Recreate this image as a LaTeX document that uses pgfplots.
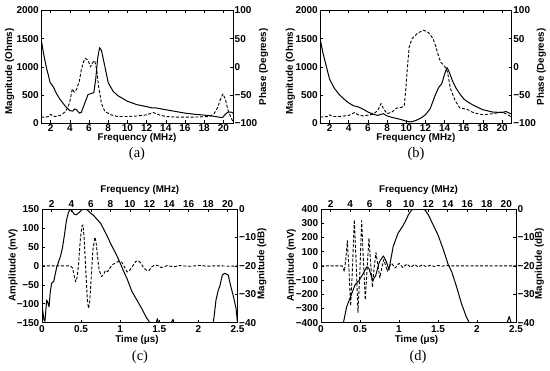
\documentclass[border=0pt]{standalone}
\usepackage{fontspec}
\setmainfont{Liberation Sans}
\newfontfamily\capfont{Liberation Serif}
\usepackage{pgfplots}
\pgfplotsset{compat=1.18}
\newcommand\tkf{\fontsize{10bp}{11bp}\selectfont\bfseries}
\newcommand\lbf{\fontsize{9.8bp}{11bp}\selectfont\bfseries}
\pgfplotsset{
  panel/.style={
    scale only axis, anchor=south west,
    axis line style={line width=0.6bp, black},
    every tick/.style={line width=0.6bp, black},
    major tick length=3bp, tick align=inside,
    every tick label/.append style={font=\tkf, inner sep=0pt},
    label style={font=\lbf, inner sep=0pt},
  },
  sol/.style={black, line width=1bp, line join=round},
  dsh/.style={black, line width=0.9bp, line join=round, dash pattern=on 3bp off 1.8bp},
}
\begin{document}
\begin{tikzpicture}
\useasboundingbox (0,0) rectangle (550bp,371bp);
% ---------------- (a) ----------------
\begin{axis}[panel, at={(41bp,247.7bp)}, width=192bp, height=112.9bp,
  xmin=1, xmax=21, ymin=0, ymax=2000,
  xtick={2,4,6,8,10,12,14,16,18,20}, xticklabels={2,4,6,8,10,12,14,16,18,20},
  xtick pos=both, xticklabel style={anchor=center, yshift=-4.8bp},
  ytick={0,500,1000,1500,2000}, yticklabels={0,500,1000,1500,2000},
  ytick pos=left, yticklabel style={anchor=east, xshift=-2bp},
  xlabel={Frequency (MHz)}, xlabel style={at={(axis description cs:0.5,-0.13)}, anchor=center},
  ylabel={Magnitude (Ohms)}, ylabel style={at={(axis description cs:-0.163,0.46)}, anchor=center},
]
\addplot[sol] coordinates {
(1.0,1510) (1.2,1300) (1.4,1120) (1.6,960) (1.8,830) (1.95,720) (2.1,690) (2.3,640)
(2.6,530) (3.0,420) (3.5,310) (4.0,225) (4.3,215) (4.5,255) (4.7,240) (5.0,180)
(5.2,195) (5.5,330) (5.9,510) (6.2,525) (6.5,545) (6.7,780) (6.9,1150) (7.1,1340)
(7.3,1290) (7.6,1050) (8.0,720) (8.5,570) (9.0,490) (10.0,390) (11.0,330) (12.0,295)
(12.5,275) (12.9,275) (13.5,255) (14.0,240) (15.0,210) (16.0,180) (17.0,160) (18.0,145)
(19.0,125) (19.5,110) (19.9,100) (20.2,160) (20.5,200) (20.8,200) (21.0,180)};
\end{axis}
\begin{axis}[panel, at={(41bp,247.7bp)}, width=192bp, height=112.9bp,
  xmin=1, xmax=21, ymin=-100, ymax=100,
  xtick=\empty,
  ytick={-100,-50,0,50,100}, yticklabels={−100,−50,0,50,100},
  ytick pos=right, yticklabel pos=right, yticklabel style={anchor=west, xshift=1.5bp},
  ylabel={Phase (Degrees)}, ylabel style={at={(axis description cs:1.16,0.5)}, anchor=center},
]
\addplot[dsh] coordinates {
(1.0,-89) (1.5,-89) (1.8,-88) (2.0,-84) (2.2,-87) (2.5,-88) (3.0,-86) (3.5,-80)
(3.8,-72) (4.0,-62) (4.26,-39) (4.47,-45) (4.7,-40) (5.0,-25) (5.2,-5) (5.45,10)
(5.6,15) (5.9,12) (6.16,0) (6.4,8) (6.6,11) (6.8,-5) (7.0,-35) (7.3,-65) (7.65,-79)
(8.3,-85) (9.0,-88) (10.0,-88) (11.0,-87) (12.0,-85) (12.7,-81) (13.3,-85) (14.0,-88)
(15.0,-89) (17.0,-89) (18.5,-88) (19.0,-84) (19.4,-72) (19.7,-57) (19.95,-48)
(20.2,-57) (20.5,-78) (20.8,-90) (21.0,-97)};
\end{axis}
% ---------------- (b) ----------------
\begin{axis}[panel, at={(320bp,247.7bp)}, width=191.7bp, height=112.9bp,
  xmin=1, xmax=21, ymin=0, ymax=2000,
  xtick={2,4,6,8,10,12,14,16,18,20}, xticklabels={2,4,6,8,10,12,14,16,18,20},
  xtick pos=both, xticklabel style={anchor=center, yshift=-4.8bp},
  ytick={0,500,1000,1500,2000}, yticklabels={0,500,1000,1500,2000},
  ytick pos=left, yticklabel style={anchor=east, xshift=-2bp},
  xlabel={Frequency (MHz)}, xlabel style={at={(axis description cs:0.5,-0.13)}, anchor=center},
  ylabel={Magnitude (Ohms)}, ylabel style={at={(axis description cs:-0.155,0.46)}, anchor=center},
]
\addplot[sol] coordinates {
(1.0,1510) (1.3,1250) (1.6,1050) (2.0,780) (2.5,620) (3.0,510) (3.5,430) (4.0,360)
(4.5,310) (5.0,290) (5.5,250) (6.0,200) (6.5,165) (7.0,140) (7.3,155) (7.6,170)
(8.0,130) (8.5,105) (9.0,85) (9.5,65) (10.0,35) (10.5,25) (11.0,50) (11.5,90)
(12.0,150) (12.5,260) (13.0,490) (13.4,640) (13.7,700) (14.0,870) (14.25,990)
(14.5,900) (14.8,760) (15.2,620) (15.6,520) (16.0,430) (16.4,380) (17.0,320)
(18.0,240) (19.0,200) (20.0,190) (20.4,210) (21.0,160)};
\end{axis}
\begin{axis}[panel, at={(320bp,247.7bp)}, width=191.7bp, height=112.9bp,
  xmin=1, xmax=21, ymin=-100, ymax=100,
  xtick=\empty,
  ytick={-100,-50,0,50,100}, yticklabels={−100,−50,0,50,100},
  ytick pos=right, yticklabel pos=right, yticklabel style={anchor=west, xshift=1.5bp},
  ylabel={Phase (Degrees)}, ylabel style={at={(axis description cs:1.155,0.5)}, anchor=center},
]
\addplot[dsh] coordinates {
(1.0,-89) (1.8,-88) (2.0,-85) (2.3,-88) (3.0,-88) (4.0,-86) (4.6,-81) (5.0,-85)
(5.5,-87) (6.5,-84) (7.0,-78) (7.37,-65) (7.65,-75) (8.0,-83) (8.5,-80) (9.0,-73)
(9.5,-72) (9.8,-68) (9.95,-40) (10.1,-5) (10.3,35) (10.6,50) (11.2,60) (11.8,65)
(12.3,61) (12.8,50) (13.1,35) (13.35,20) (13.6,8) (14.0,1) (14.3,-9) (14.6,-38)
(15.1,-60) (15.6,-73) (16.3,-75) (17.0,-81) (18.0,-85) (19.0,-83) (20.0,-80)
(20.5,-84) (21.0,-89)};
\end{axis}
% ---------------- (c) ----------------
\begin{axis}[panel, at={(42bp,48.3bp)}, width=195.5bp, height=113.6bp,
  xmin=0, xmax=2.5, ymin=-150, ymax=150,
  xtick={0,0.5,1,1.5,2,2.5}, xticklabels={0,0.5,1,1.5,2,2.5},
  xtick pos=left, xticklabel style={anchor=center, yshift=-6bp},
  ytick={-150,-100,-50,0,50,100,150}, yticklabels={−150,−100,−50,0,50,100,150},
  ytick pos=left, yticklabel style={anchor=east, xshift=-2.5bp},
  xlabel={Time (μs)}, xlabel style={at={(axis description cs:0.486,-0.152)}, anchor=center},
  ylabel={Amplitude (mV)}, ylabel style={at={(axis description cs:-0.148,0.508)}, anchor=center},
]
\addplot[dsh] coordinates {
(0.00,0) (0.36,0) (0.39,-5) (0.41,-25) (0.43,-42) (0.45,-30) (0.47,10) (0.49,70)
(0.51,105) (0.525,108) (0.54,70) (0.56,-10) (0.58,-90) (0.595,-112) (0.61,-95)
(0.63,-30) (0.65,40) (0.675,76) (0.69,65) (0.71,25) (0.73,-10) (0.76,-28) (0.79,-22)
(0.81,-12) (0.84,-15) (0.87,-5) (0.90,3) (0.94,8) (0.98,12) (1.02,10) (1.06,-5)
(1.09,-16) (1.12,-12) (1.16,0) (1.20,12) (1.23,14) (1.26,8) (1.30,-5) (1.34,-12)
(1.37,-12) (1.40,-3) (1.44,2) (1.48,1) (1.52,-4) (1.56,-3) (1.60,1) (1.65,-1)
(1.70,-2) (1.75,1) (1.80,0) (1.90,-1) (2.00,1) (2.05,1) (2.10,-1) (2.20,0)
(2.30,0) (2.40,-1) (2.50,0)};
\end{axis}
\begin{axis}[panel, at={(42bp,48.3bp)}, width=195.5bp, height=113.6bp,
  xmin=1, xmax=21, ymin=-40, ymax=0,
  xtick={2,4,6,8,10,12,14,16,18,20}, xticklabels={2,4,6,8,10,12,14,16,18,20},
  xtick pos=right, xticklabel pos=right, xticklabel style={anchor=center, yshift=4.6bp},
  ytick={-40,-30,-20,-10,0}, yticklabels={−40,−30,−20,−10,0},
  ytick pos=right, yticklabel pos=right, yticklabel style={anchor=west, xshift=1.5bp},
  xlabel={Frequency (MHz)}, xlabel style={at={(axis description cs:0.5,1.165)}, anchor=center},
  ylabel={Magnitude (dB)}, ylabel style={at={(axis description cs:1.125,0.52)}, anchor=center},
]
\addplot[sol] coordinates {
(1.0,-33.8) (1.2,-39) (1.3,-39.5) (1.48,-32) (1.6,-33) (1.72,-34.4) (1.85,-29)
(2.0,-26) (2.2,-25.5) (2.5,-20.5) (2.9,-16.5) (3.1,-13.5) (3.3,-9) (3.5,-4)
(3.7,-1.2) (3.9,0) (4.05,-0.5) (4.3,-1.8) (4.5,-2) (4.8,-1.2) (5.1,-0.2) (5.3,0)
(5.6,-0.2) (5.9,-1.2) (6.3,-2.3) (6.6,-3.5) (7.0,-5) (7.3,-7) (7.6,-9) (8.0,-12)
(8.3,-14) (8.6,-16) (9.0,-19) (9.3,-21.5) (9.7,-24.5) (10.2,-29) (10.7,-32)
(11.2,-35) (11.65,-38) (12.0,-39.8) (12.2,-41) (12.5,-42) (12.8,-38.6) (13.1,-42)
(13.8,-43) (14.4,-38.8) (14.7,-42) (15.5,-45) (18.3,-45) (18.6,-38) (18.8,-32)
(19.0,-29) (19.2,-27) (19.45,-23.2) (19.7,-22.6) (20.05,-23.2) (20.3,-27)
(20.6,-31) (20.85,-35) (21.0,-40)};
\end{axis}
% ---------------- (d) ----------------
\begin{axis}[panel, at={(321bp,48.3bp)}, width=195bp, height=113.6bp,
  xmin=0, xmax=2.5, ymin=-400, ymax=400,
  xtick={0,0.5,1,1.5,2,2.5}, xticklabels={0,0.5,1,1.5,2,2.5},
  xtick pos=left, xticklabel style={anchor=center, yshift=-6bp},
  ytick={-400,-300,-200,-100,0,100,200,300,400},
  yticklabels={−400,−300,−200,−100,0,100,200,300,400},
  ytick pos=left, yticklabel style={anchor=east, xshift=-2.5bp},
  xlabel={Time (μs)}, xlabel style={at={(axis description cs:0.49,-0.152)}, anchor=center},
  ylabel={Amplitude (mV)}, ylabel style={at={(axis description cs:-0.152,0.508)}, anchor=center},
]
\addplot[dsh] coordinates {
(0.00,0) (0.27,0) (0.29,-25) (0.30,-40) (0.32,60) (0.338,178) (0.36,-40) (0.38,-282)
(0.40,-60) (0.427,325) (0.45,30) (0.474,-329) (0.50,-20) (0.521,318) (0.545,20)
(0.568,-240) (0.59,-30) (0.615,195) (0.635,30) (0.66,-150) (0.68,-20) (0.705,94)
(0.73,0) (0.755,-85) (0.78,-10) (0.805,45) (0.83,0) (0.85,-38) (0.88,0) (0.905,18)
(0.95,-15) (1.0,18) (1.05,-12) (1.10,14) (1.15,-10) (1.20,10) (1.25,-8) (1.30,8)
(1.35,-6) (1.40,5) (1.45,-4) (1.50,3) (1.55,-2) (1.60,2) (1.70,0) (2.50,0)};
\end{axis}
\begin{axis}[panel, at={(321bp,48.3bp)}, width=195bp, height=113.6bp,
  xmin=1, xmax=21, ymin=-40, ymax=0,
  xtick={2,4,6,8,10,12,14,16,18,20}, xticklabels={2,4,6,8,10,12,14,16,18,20},
  xtick pos=right, xticklabel pos=right, xticklabel style={anchor=center, yshift=4.6bp},
  ytick={-40,-30,-20,-10,0}, yticklabels={−40,−30,−20,−10,0},
  ytick pos=right, yticklabel pos=right, yticklabel style={anchor=west, xshift=1.5bp},
  xlabel={Frequency (MHz)}, xlabel style={at={(axis description cs:0.5,1.165)}, anchor=center},
  ylabel={Magnitude (dB)}, ylabel style={at={(axis description cs:1.12,0.52)}, anchor=center},
]
\addplot[sol] coordinates {
(3.2,-41) (3.3,-40) (3.63,-34.4) (4.04,-30.8) (4.49,-26.7) (4.93,-25) (5.34,-22.6)
(5.7,-20.3) (5.9,-20.8) (6.3,-25) (6.6,-23.5) (7.0,-18.5) (7.4,-16.5) (7.7,-18.5)
(7.97,-21.4) (8.2,-17) (8.4,-13.2) (8.9,-8.5) (9.4,-5.9) (9.7,-4) (9.96,-2)
(10.3,-0.3) (10.64,0) (11.3,0) (11.67,-0.3) (12.0,-2) (12.5,-5.5) (13.0,-9.1)
(13.5,-13.8) (14.06,-19.7) (14.4,-22) (14.9,-27.3) (15.4,-33.2) (15.9,-37.9)
(16.2,-40) (16.4,-42) (19.9,-42) (20.1,-40) (20.3,-37.8) (20.5,-40) (20.7,-42)};
\end{axis}
% captions
\node[font=\capfont\fontsize{14.5bp}{15bp}\selectfont] at (137bp,217bp) {(a)};
\node[font=\capfont\fontsize{14.5bp}{15bp}\selectfont] at (416bp,217bp) {(b)};
\node[font=\capfont\fontsize{14.5bp}{15bp}\selectfont] at (140bp,14bp) {(c)};
\node[font=\capfont\fontsize{14.5bp}{15bp}\selectfont] at (418bp,14bp) {(d)};
\end{tikzpicture}
\end{document}
